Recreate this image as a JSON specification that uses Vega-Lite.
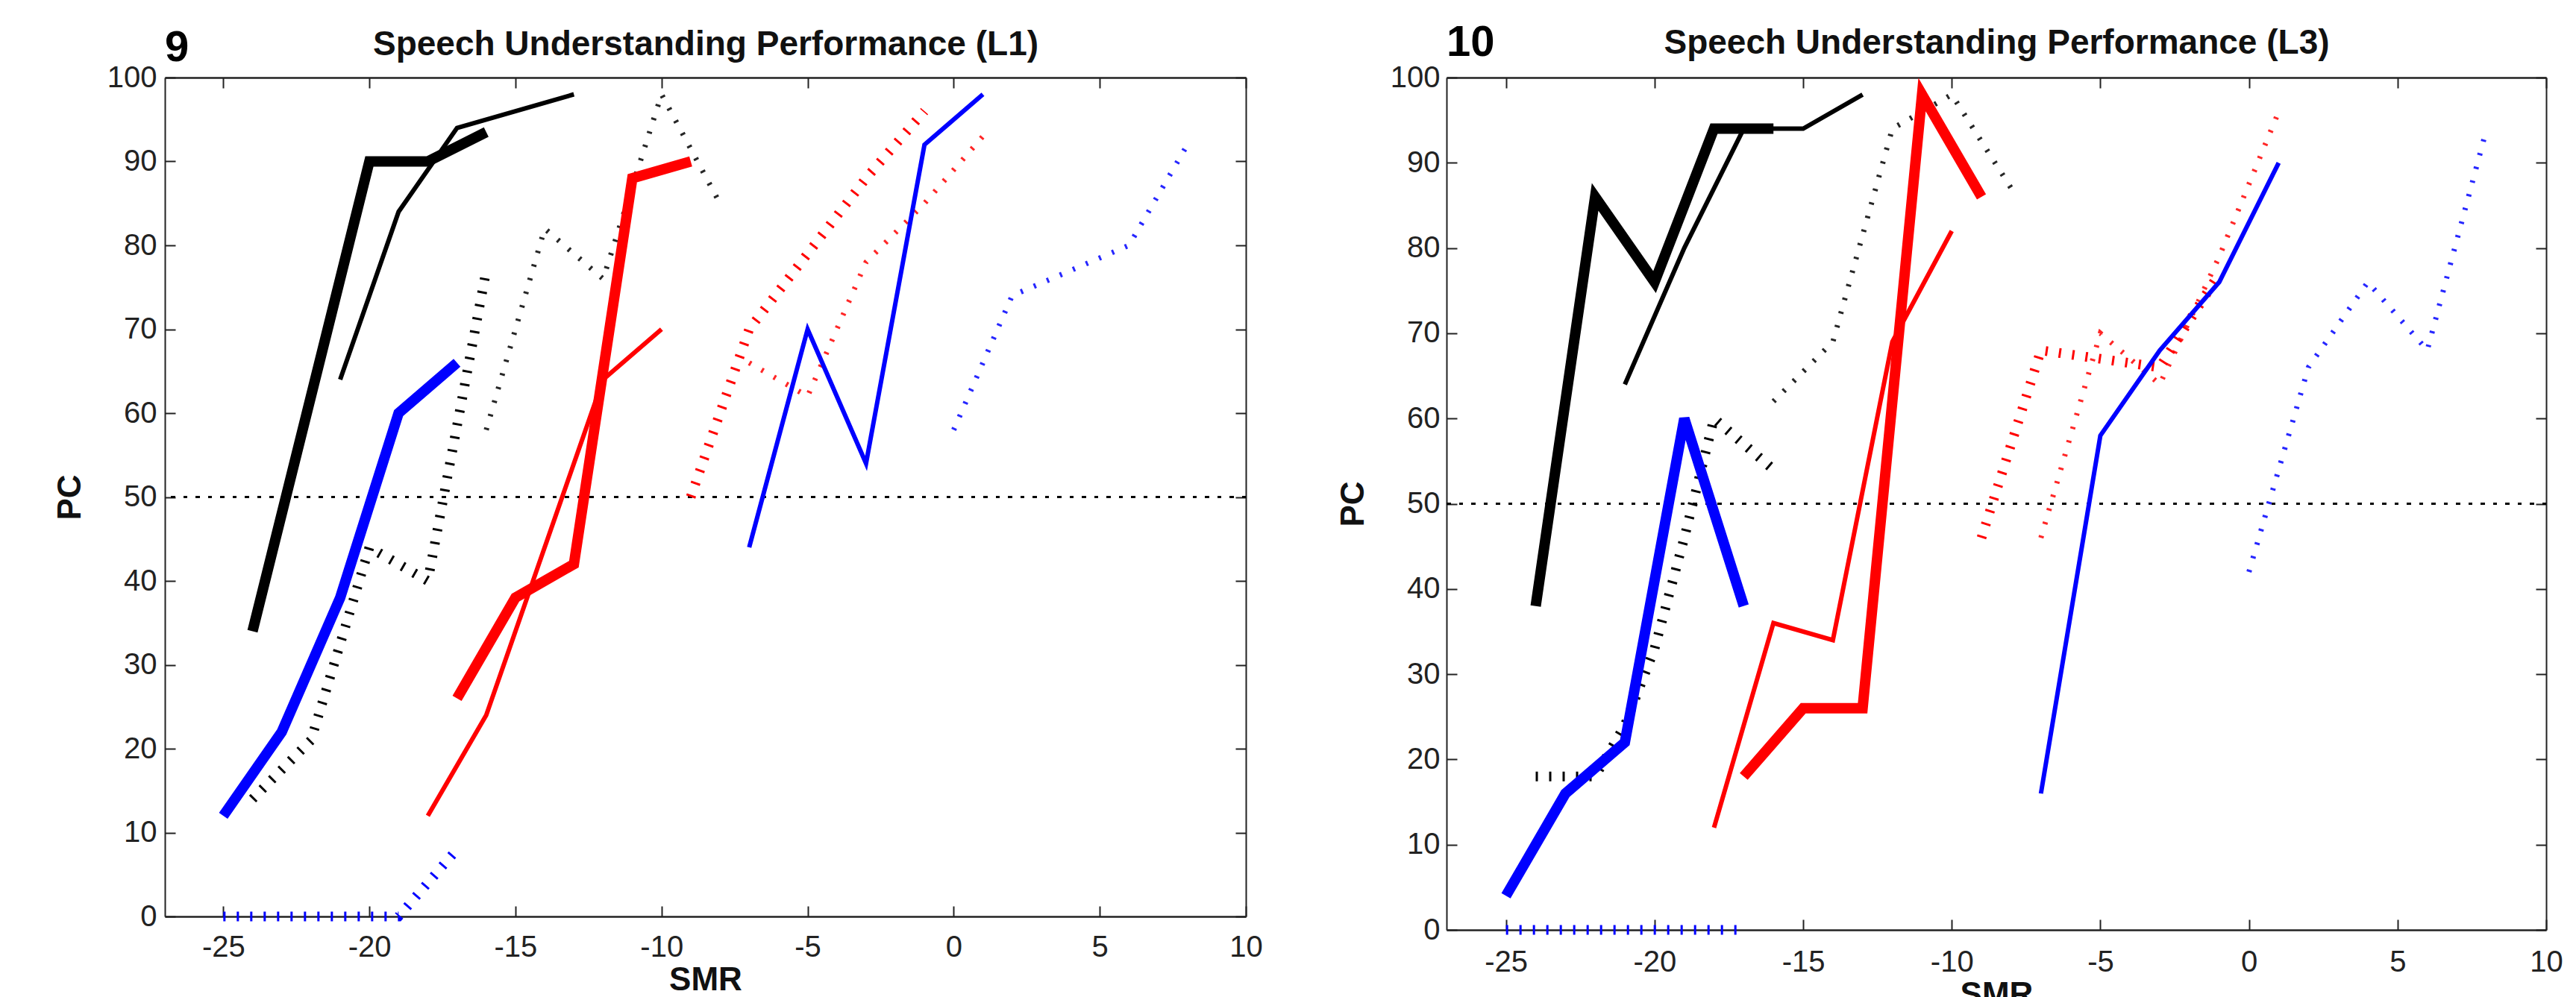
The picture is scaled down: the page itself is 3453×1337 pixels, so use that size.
{
  "$schema": "https://vega.github.io/schema/vega-lite/v6.json",
  "background": "white",
  "padding": {"left": 72, "top": 29, "right": 0, "bottom": 0},
  "spacing": 269,
  "bounds": "flush",
  "config": {
    "view": {"stroke": null},
    "font": "Liberation Sans",
    "axis": {
      "grid": false,
      "tickSize": -14,
      "tickWidth": 2,
      "tickColor": "#222222",
      "domainColor": "#222222",
      "domainWidth": 2,
      "labelFont": "Liberation Sans",
      "labelFontSize": 40,
      "labelColor": "#222222",
      "labelFlush": false,
      "labelOverlap": false,
      "titleFont": "Liberation Sans",
      "titleFontSize": 44,
      "titleFontWeight": "bold",
      "titleColor": "#111111"
    },
    "title": {"font": "Liberation Sans", "fontWeight": "bold", "color": "#000000"}
  },
  "datasets": {
    "L1": [
      {"c": "black", "st": "thick", "x": -24, "y": 34}, {"c": "black", "st": "thick", "x": -20, "y": 90}, {"c": "black", "st": "thick", "x": -18, "y": 90}, {"c": "black", "st": "thick", "x": -16, "y": 93.5},
      {"c": "blue", "st": "thick", "x": -25, "y": 12}, {"c": "blue", "st": "thick", "x": -23, "y": 22}, {"c": "blue", "st": "thick", "x": -21, "y": 38}, {"c": "blue", "st": "thick", "x": -19, "y": 60}, {"c": "blue", "st": "thick", "x": -17, "y": 66},
      {"c": "red", "st": "thick", "x": -17, "y": 26}, {"c": "red", "st": "thick", "x": -15, "y": 38}, {"c": "red", "st": "thick", "x": -13, "y": 42}, {"c": "red", "st": "thick", "x": -11, "y": 88}, {"c": "red", "st": "thick", "x": -9, "y": 90},
      {"c": "black", "st": "thin", "x": -21, "y": 64}, {"c": "black", "st": "thin", "x": -19, "y": 84}, {"c": "black", "st": "thin", "x": -17, "y": 94}, {"c": "black", "st": "thin", "x": -13, "y": 98},
      {"c": "blue", "st": "thin", "x": -7, "y": 44}, {"c": "blue", "st": "thin", "x": -5, "y": 70}, {"c": "blue", "st": "thin", "x": -3, "y": 54}, {"c": "blue", "st": "thin", "x": -1, "y": 92}, {"c": "blue", "st": "thin", "x": 1, "y": 98},
      {"c": "red", "st": "thin", "x": -18, "y": 12}, {"c": "red", "st": "thin", "x": -16, "y": 24}, {"c": "red", "st": "thin", "x": -12, "y": 64}, {"c": "red", "st": "thin", "x": -10, "y": 70},
      {"c": "black", "st": "hatch", "x": -24, "y": 14}, {"c": "black", "st": "hatch", "x": -22, "y": 21}, {"c": "black", "st": "hatch", "x": -20, "y": 44}, {"c": "black", "st": "hatch", "x": -18, "y": 40}, {"c": "black", "st": "hatch", "x": -16, "y": 77},
      {"c": "blue", "st": "hatch", "x": -25, "y": 0}, {"c": "blue", "st": "hatch", "x": -19, "y": 0}, {"c": "blue", "st": "hatch", "x": -17, "y": 8},
      {"c": "red", "st": "hatch", "x": -9, "y": 50}, {"c": "red", "st": "hatch", "x": -7, "y": 70}, {"c": "red", "st": "hatch", "x": -5, "y": 79}, {"c": "red", "st": "hatch", "x": -3, "y": 88}, {"c": "red", "st": "hatch", "x": -1, "y": 96},
      {"c": "black", "st": "dots", "x": -16, "y": 58}, {"c": "black", "st": "dots", "x": -14, "y": 82}, {"c": "black", "st": "dots", "x": -12, "y": 76}, {"c": "black", "st": "dots", "x": -10, "y": 98}, {"c": "black", "st": "dots", "x": -8, "y": 85},
      {"c": "blue", "st": "dots", "x": 0, "y": 58}, {"c": "blue", "st": "dots", "x": 2, "y": 74}, {"c": "blue", "st": "dots", "x": 4, "y": 77}, {"c": "blue", "st": "dots", "x": 6, "y": 80}, {"c": "blue", "st": "dots", "x": 8, "y": 92},
      {"c": "red", "st": "dots", "x": -7, "y": 66}, {"c": "red", "st": "dots", "x": -5, "y": 62}, {"c": "red", "st": "dots", "x": -3, "y": 78}, {"c": "red", "st": "dots", "x": -1, "y": 85}, {"c": "red", "st": "dots", "x": 1, "y": 93}
    ],
    "L3": [
      {"c": "black", "st": "thick", "x": -24, "y": 38}, {"c": "black", "st": "thick", "x": -22, "y": 86}, {"c": "black", "st": "thick", "x": -20, "y": 76}, {"c": "black", "st": "thick", "x": -18, "y": 94}, {"c": "black", "st": "thick", "x": -16, "y": 94},
      {"c": "blue", "st": "thick", "x": -25, "y": 4}, {"c": "blue", "st": "thick", "x": -23, "y": 16}, {"c": "blue", "st": "thick", "x": -21, "y": 22}, {"c": "blue", "st": "thick", "x": -19, "y": 60}, {"c": "blue", "st": "thick", "x": -17, "y": 38},
      {"c": "red", "st": "thick", "x": -17, "y": 18}, {"c": "red", "st": "thick", "x": -15, "y": 26}, {"c": "red", "st": "thick", "x": -13, "y": 26}, {"c": "red", "st": "thick", "x": -11, "y": 98}, {"c": "red", "st": "thick", "x": -9, "y": 86},
      {"c": "black", "st": "thin", "x": -21, "y": 64}, {"c": "black", "st": "thin", "x": -19, "y": 80}, {"c": "black", "st": "thin", "x": -17, "y": 94}, {"c": "black", "st": "thin", "x": -15, "y": 94}, {"c": "black", "st": "thin", "x": -13, "y": 98},
      {"c": "blue", "st": "thin", "x": -7, "y": 16}, {"c": "blue", "st": "thin", "x": -5, "y": 58}, {"c": "blue", "st": "thin", "x": -3, "y": 68}, {"c": "blue", "st": "thin", "x": -1, "y": 76}, {"c": "blue", "st": "thin", "x": 1, "y": 90},
      {"c": "red", "st": "thin", "x": -18, "y": 12}, {"c": "red", "st": "thin", "x": -16, "y": 36}, {"c": "red", "st": "thin", "x": -14, "y": 34}, {"c": "red", "st": "thin", "x": -12, "y": 69}, {"c": "red", "st": "thin", "x": -10, "y": 82},
      {"c": "black", "st": "hatch", "x": -24, "y": 18}, {"c": "black", "st": "hatch", "x": -22, "y": 18}, {"c": "black", "st": "hatch", "x": -21, "y": 24}, {"c": "black", "st": "hatch", "x": -20, "y": 33}, {"c": "black", "st": "hatch", "x": -19, "y": 46}, {"c": "black", "st": "hatch", "x": -18, "y": 60}, {"c": "black", "st": "hatch", "x": -16, "y": 54},
      {"c": "blue", "st": "hatch", "x": -25, "y": 0}, {"c": "blue", "st": "hatch", "x": -17, "y": 0},
      {"c": "red", "st": "hatch", "x": -9, "y": 46}, {"c": "red", "st": "hatch", "x": -7, "y": 68}, {"c": "red", "st": "hatch", "x": -5, "y": 67}, {"c": "red", "st": "hatch", "x": -3, "y": 66}, {"c": "red", "st": "hatch", "x": -1, "y": 77},
      {"c": "black", "st": "dots", "x": -16, "y": 62}, {"c": "black", "st": "dots", "x": -14, "y": 69}, {"c": "black", "st": "dots", "x": -12, "y": 94}, {"c": "black", "st": "dots", "x": -10, "y": 98}, {"c": "black", "st": "dots", "x": -8, "y": 87},
      {"c": "blue", "st": "dots", "x": 0, "y": 42}, {"c": "blue", "st": "dots", "x": 2, "y": 66}, {"c": "blue", "st": "dots", "x": 4, "y": 76}, {"c": "blue", "st": "dots", "x": 6, "y": 68}, {"c": "blue", "st": "dots", "x": 8, "y": 94},
      {"c": "red", "st": "dots", "x": -7, "y": 46}, {"c": "red", "st": "dots", "x": -5, "y": 70}, {"c": "red", "st": "dots", "x": -3, "y": 64}, {"c": "red", "st": "dots", "x": -1, "y": 79}, {"c": "red", "st": "dots", "x": 1, "y": 96}
    ]
  },
  "hconcat": [
    {
      "width": 1449,
      "height": 1125,
      "data": {"name": "L1"},
      "title": {"text": "9", "anchor": "start", "frame": "group", "fontSize": 58, "offset": -58},
      "resolve": {"axis": {"x": "independent", "y": "independent"}},
      "layer": [
        {
          "mark": {"type": "rule", "strokeWidth": 3, "strokeDash": [5, 11.5], "color": "#000000"},
          "encoding": {"y": {"datum": 50, "type": "quantitative", "scale": {"domain": [0, 100], "nice": false}, "axis": null}}
        },
        {
          "transform": [{"filter": "datum.st == 'hatch'"}],
          "mark": {"type": "line", "strokeWidth": 13, "strokeDash": [3, 15], "strokeCap": "butt"},
          "encoding": {
            "x": {"field": "x", "type": "quantitative", "scale": {"domain": [-27, 10], "nice": false, "zero": false},
              "axis": {"orient": "bottom", "values": [-25, -20, -15, -10, -5, 0, 5, 10], "title": "SMR", "labelPadding": 35, "titlePadding": 2, "domainWidth": 2.5, "labelExpr": "replace(datum.label, '−', '-')"}},
            "y": {"field": "y", "type": "quantitative", "scale": {"domain": [0, 100], "nice": false},
              "axis": {"orient": "left", "values": [0, 10, 20, 30, 40, 50, 60, 70, 80, 90, 100], "title": "PC", "labelPadding": 25, "titlePadding": 27}},
            "color": {"field": "c", "type": "nominal", "scale": {"domain": ["black", "blue", "red"], "range": ["#000000", "#0000ff", "#ff0000"]}, "legend": null}
          }
        },
        {
          "transform": [{"filter": "datum.st == 'dots'"}],
          "mark": {"type": "line", "strokeWidth": 7, "strokeDash": [3, 16], "strokeCap": "butt", "opacity": 0.85},
          "encoding": {
            "x": {"field": "x", "type": "quantitative", "scale": {"domain": [-27, 10], "nice": false, "zero": false},
              "axis": {"orient": "top", "values": [-25, -20, -15, -10, -5, 0, 5, 10], "labels": false, "title": "Speech Understanding Performance (L1)", "titleFontSize": 46, "titlePadding": 20, "domainWidth": 2.5}},
            "y": {"field": "y", "type": "quantitative", "scale": {"domain": [0, 100], "nice": false},
              "axis": {"orient": "right", "values": [0, 10, 20, 30, 40, 50, 60, 70, 80, 90, 100], "labels": false, "title": null}},
            "color": {"field": "c", "type": "nominal", "scale": {"domain": ["black", "blue", "red"], "range": ["#000000", "#0000ff", "#ff0000"]}, "legend": null}
          }
        },
        {
          "transform": [{"filter": "datum.st == 'thin'"}],
          "mark": {"type": "line", "strokeWidth": 6},
          "encoding": {
            "x": {"field": "x", "type": "quantitative", "scale": {"domain": [-27, 10], "nice": false, "zero": false}, "axis": null},
            "y": {"field": "y", "type": "quantitative", "scale": {"domain": [0, 100], "nice": false}, "axis": null},
            "color": {"field": "c", "type": "nominal", "scale": {"domain": ["black", "blue", "red"], "range": ["#000000", "#0000ff", "#ff0000"]}, "legend": null}
          }
        },
        {
          "transform": [{"filter": "datum.st == 'thick'"}],
          "mark": {"type": "line", "strokeWidth": 14},
          "encoding": {
            "x": {"field": "x", "type": "quantitative", "scale": {"domain": [-27, 10], "nice": false, "zero": false}, "axis": null},
            "y": {"field": "y", "type": "quantitative", "scale": {"domain": [0, 100], "nice": false}, "axis": null},
            "color": {"field": "c", "type": "nominal", "scale": {"domain": ["black", "blue", "red"], "range": ["#000000", "#0000ff", "#ff0000"]}, "legend": null}
          }
        }
      ]
    },
    {
      "width": 1474,
      "height": 1143,
      "data": {"name": "L3"},
      "title": {"text": "10", "anchor": "start", "frame": "group", "fontSize": 58, "offset": -53},
      "resolve": {"axis": {"x": "independent", "y": "independent"}},
      "layer": [
        {
          "mark": {"type": "rule", "strokeWidth": 3, "strokeDash": [5, 11.5], "color": "#000000"},
          "encoding": {"y": {"datum": 50, "type": "quantitative", "scale": {"domain": [0, 100], "nice": false}, "axis": null}}
        },
        {
          "transform": [{"filter": "datum.st == 'hatch'"}],
          "mark": {"type": "line", "strokeWidth": 13, "strokeDash": [3, 15], "strokeCap": "butt"},
          "encoding": {
            "x": {"field": "x", "type": "quantitative", "scale": {"domain": [-27, 10], "nice": false, "zero": false},
              "axis": {"orient": "bottom", "values": [-25, -20, -15, -10, -5, 0, 5, 10], "title": "SMR", "labelPadding": 37, "titlePadding": 2, "domainWidth": 2.5, "labelExpr": "replace(datum.label, '−', '-')"}},
            "y": {"field": "y", "type": "quantitative", "scale": {"domain": [0, 100], "nice": false},
              "axis": {"orient": "left", "values": [0, 10, 20, 30, 40, 50, 60, 70, 80, 90, 100], "title": "PC", "labelPadding": 23, "titlePadding": 27}},
            "color": {"field": "c", "type": "nominal", "scale": {"domain": ["black", "blue", "red"], "range": ["#000000", "#0000ff", "#ff0000"]}, "legend": null}
          }
        },
        {
          "transform": [{"filter": "datum.st == 'dots'"}],
          "mark": {"type": "line", "strokeWidth": 7, "strokeDash": [3, 16], "strokeCap": "butt", "opacity": 0.85},
          "encoding": {
            "x": {"field": "x", "type": "quantitative", "scale": {"domain": [-27, 10], "nice": false, "zero": false},
              "axis": {"orient": "top", "values": [-25, -20, -15, -10, -5, 0, 5, 10], "labels": false, "title": "Speech Understanding Performance (L3)", "titleFontSize": 46, "titlePadding": 22, "domainWidth": 2.5}},
            "y": {"field": "y", "type": "quantitative", "scale": {"domain": [0, 100], "nice": false},
              "axis": {"orient": "right", "values": [0, 10, 20, 30, 40, 50, 60, 70, 80, 90, 100], "labels": false, "title": null}},
            "color": {"field": "c", "type": "nominal", "scale": {"domain": ["black", "blue", "red"], "range": ["#000000", "#0000ff", "#ff0000"]}, "legend": null}
          }
        },
        {
          "transform": [{"filter": "datum.st == 'thin'"}],
          "mark": {"type": "line", "strokeWidth": 6},
          "encoding": {
            "x": {"field": "x", "type": "quantitative", "scale": {"domain": [-27, 10], "nice": false, "zero": false}, "axis": null},
            "y": {"field": "y", "type": "quantitative", "scale": {"domain": [0, 100], "nice": false}, "axis": null},
            "color": {"field": "c", "type": "nominal", "scale": {"domain": ["black", "blue", "red"], "range": ["#000000", "#0000ff", "#ff0000"]}, "legend": null}
          }
        },
        {
          "transform": [{"filter": "datum.st == 'thick'"}],
          "mark": {"type": "line", "strokeWidth": 14},
          "encoding": {
            "x": {"field": "x", "type": "quantitative", "scale": {"domain": [-27, 10], "nice": false, "zero": false}, "axis": null},
            "y": {"field": "y", "type": "quantitative", "scale": {"domain": [0, 100], "nice": false}, "axis": null},
            "color": {"field": "c", "type": "nominal", "scale": {"domain": ["black", "blue", "red"], "range": ["#000000", "#0000ff", "#ff0000"]}, "legend": null}
          }
        }
      ]
    }
  ]
}
